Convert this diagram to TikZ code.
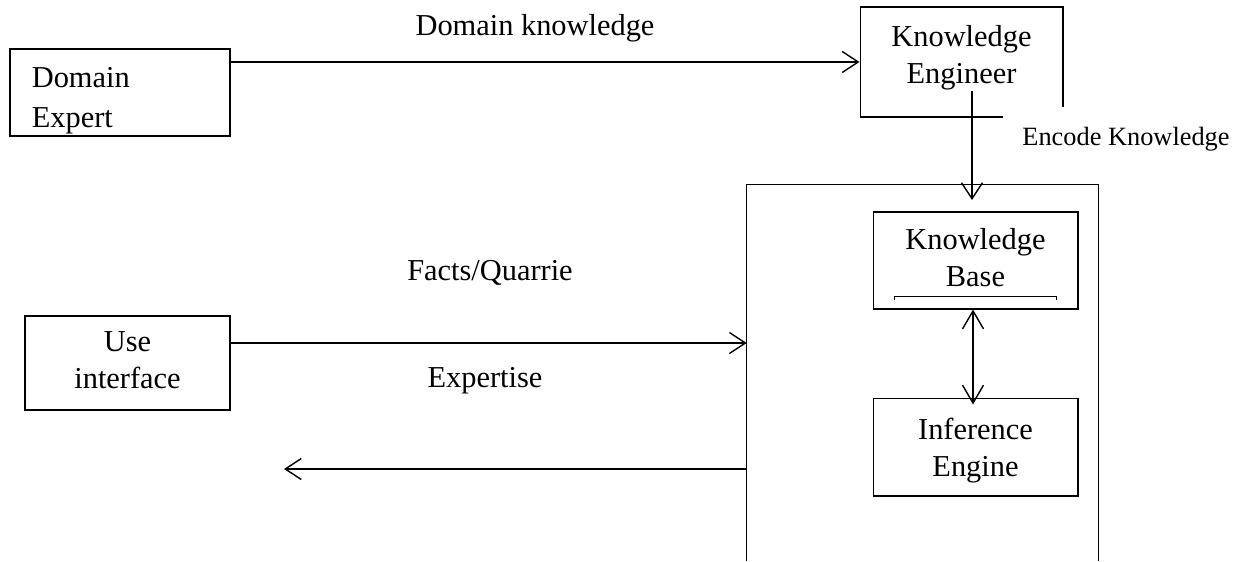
\documentclass[tikz,border=0pt]{standalone}
\usepackage{fontspec}
\setmainfont{Liberation Serif}
\usetikzlibrary{arrows.meta, positioning}

\begin{document}
\begin{tikzpicture}[
    x=0.02cm, y=-0.02cm, % one unit = one pixel of the layout, y down
    box/.style={draw, line width=0.6pt, inner sep=0pt}, % Style for the boxes
    txt/.style={inner sep=0pt, align=center, font=\fontsize{17.3}{21}\selectfont}, % Style for texts
    flow/.style={-{Straight Barb[length=0.32cm, width=0.42cm]}, line width=0.8pt}, % Style for arrows
    both/.style={{Straight Barb[length=0.36cm, width=0.42cm]}-{Straight Barb[length=0.36cm, width=0.42cm]}, line width=0.8pt}
]
    \useasboundingbox (0,0) rectangle (1246,561);

    % --- Domain Expert (text clipped by its box) ---
    \node[box, minimum width=4.4cm, minimum height=1.74cm] (expert) at (120,92.5) {};
    \begin{scope}
        \clip (10,49) rectangle (230,133);
        \node[txt, align=left, anchor=north west, font=\fontsize{17.3}{22.7}\selectfont] (experttext)
            at ([xshift=0.44cm, yshift=-0.38cm]expert.north west) {Domain\\Expert};
    \end{scope}

    % --- Knowledge Engineer ---
    \node[box, minimum width=4.06cm, minimum height=2.2cm] (ke) at (961.5,62) {};
    \node[txt, below=0.38cm of ke.north] (ketext) {Knowledge\\Engineer};
    \node[fill=white, inner xsep=0.38cm, inner ysep=0.4cm, anchor=base,
          font=\fontsize{15}{18}\selectfont] (encode) at (1126,145) {Encode Knowledge};

    % Domain knowledge arrow
    \draw[flow] (expert.east |- ke.west) -- (ke.west);
    \node[txt, anchor=base] (dklabel) at (535,35) {Domain knowledge};

    % --- System box (open at the bottom) ---
    \node[minimum width=7.02cm, minimum height=7.52cm, inner sep=0pt] (sys) at (922.5,373) {};
    \draw[line width=0.6pt] (sys.south west) |- (sys.north east) -- (sys.south east);

    % Encode arrow
    \coordinate (encend) at (972,200);
    \draw[flow] (ketext.south -| encend) -- (encend);

    % --- Knowledge Base and Inference Engine ---
    \node[box, minimum width=4.1cm, minimum height=1.94cm] (kb) at (975.5,260.5) {};
    \node[txt, below=0.34cm of kb.north] (kbtext) {Knowledge\\Base};
    \draw[line width=0.5pt] (894,300) -- (894,296) -- (1056,296) -- (1056,300);

    \node[box, minimum width=4.1cm, minimum height=1.96cm, below=1.76cm of kb] (ie) {};
    \node[txt, below=0.4cm of ie.north] (ietext) {Inference\\Engine};

    \draw[both] ([xshift=-0.05cm]kb.south) -- ([xshift=-0.05cm, yshift=-0.14cm]ie.north);

    % --- User interface ---
    \node[box, minimum width=4.1cm, minimum height=1.88cm] (ui) at (127.5,363) {};
    \node[txt, below=0.32cm of ui.north] (uitext) {Use\\interface};

    \draw[flow] ([yshift=0.4cm]ui.east) coordinate (facts) -- (facts -| sys.west);
    \node[txt, anchor=base] (factslabel) at (490,280) {Facts/Quarrie};

    \node[txt, anchor=base] (explabel) at (485,387) {Expertise};
    \coordinate (expout) at (284,469);
    \draw[flow] (expout -| sys.west) -- (expout);

\end{tikzpicture}
\end{document}
